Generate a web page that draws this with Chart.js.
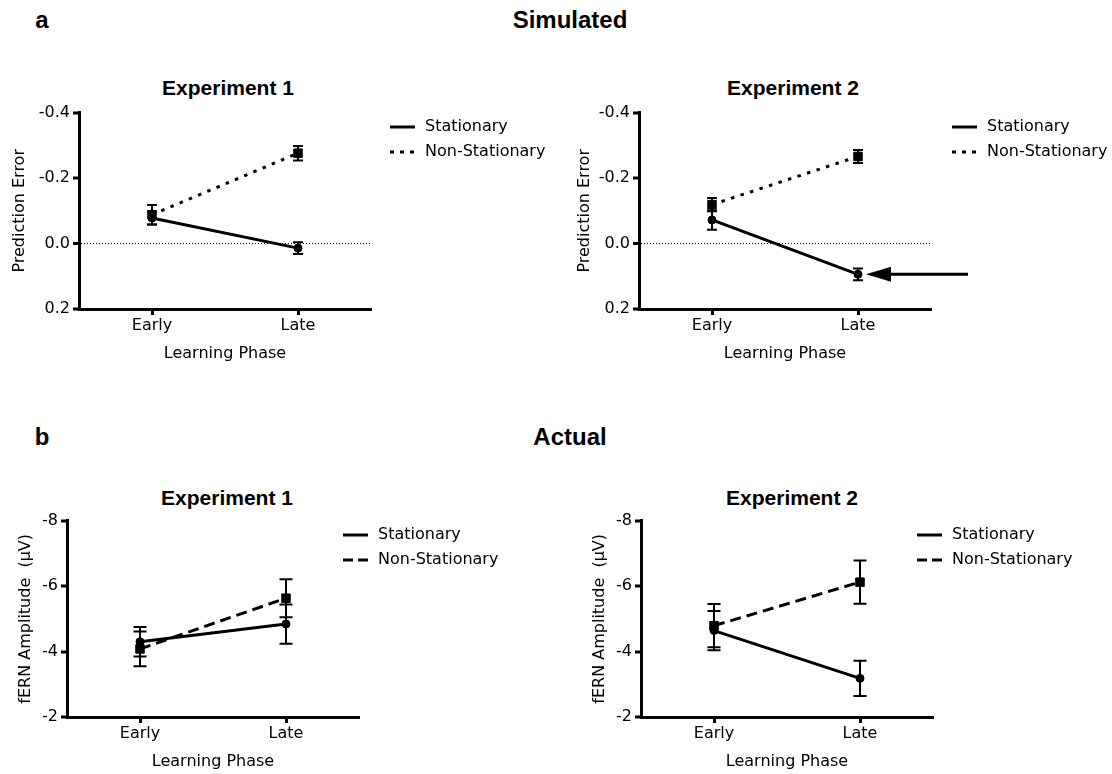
<!DOCTYPE html>
<html>
<head>
<meta charset="utf-8">
<script src="https://cdn.jsdelivr.net/npm/chart.js@4"></script>
<style>
  html, body { margin: 0; padding: 0; background: #fff; overflow: hidden; }
  body { width: 1112px; height: 774px; position: relative; }
  .hd {
    position: absolute; color: #000; white-space: nowrap; line-height: 1;
    font-family: "Liberation Sans", Arial, sans-serif; font-weight: bold;
    transform: translate(-50%, -50%);
  }
  canvas { position: absolute; }
</style>
</head>
<body>
<div class="hd" style="left:42px;top:20px;font-size:24px">a</div>
<div class="hd" style="left:570px;top:20px;font-size:24px">Simulated</div>
<div class="hd" style="left:228px;top:87px;font-size:21px">Experiment 1</div>
<div class="hd" style="left:793px;top:87px;font-size:21px">Experiment 2</div>
<div class="hd" style="left:42px;top:437px;font-size:24px">b</div>
<div class="hd" style="left:570px;top:437px;font-size:24px">Actual</div>
<div class="hd" style="left:227px;top:497px;font-size:21px">Experiment 1</div>
<div class="hd" style="left:792px;top:497px;font-size:21px">Experiment 2</div>

<canvas id="simExp1" width="556" height="267" style="left:0;top:100px"></canvas>
<canvas id="simExp2" width="552" height="267" style="left:560px;top:100px"></canvas>
<canvas id="actExp1" width="556" height="267" style="left:0;top:508px"></canvas>
<canvas id="actExp2" width="552" height="267" style="left:560px;top:508px"></canvas>

<script>
// ---- data ----
const phases = ['Early', 'Late'];
const seriesNames = ['Stationary', 'Non-Stationary'];

// Simulated prediction error (mean, SEM)
const simExp1Stationary = [-0.078, 0.014];
const simExp1StationarySem = [0.02, 0.018];
const simExp1NonStationary = [-0.088, -0.276];
const simExp1NonStationarySem = [0.03, 0.022];

const simExp2Stationary = [-0.072, 0.094];
const simExp2StationarySem = [0.03, 0.018];
const simExp2NonStationary = [-0.119, -0.266];
const simExp2NonStationarySem = [0.02, 0.02];

// Measured fERN amplitude in µV (mean, SEM)
const actExp1Stationary = [-4.30, -4.84];
const actExp1StationarySem = [0.45, 0.60];
const actExp1NonStationary = [-4.08, -5.63];
const actExp1NonStationarySem = [0.53, 0.58];

const actExp2Stationary = [-4.64, -3.18];
const actExp2StationarySem = [0.60, 0.54];
const actExp2NonStationary = [-4.79, -6.12];
const actExp2NonStationarySem = [0.66, 0.66];

const simTicks = [-0.4, -0.2, 0.0, 0.2];
const actTicks = [-8, -6, -4, -2];

// ---- shared styling ----
const AXIS_FONT = { family: '"DejaVu Sans", Verdana, sans-serif', size: 16 };
const DOTTED = [3.5, 6.5];
const DASHED = [11, 6];

// vertical SEM bars with caps
const errorBars = {
  id: 'errorBars',
  afterDatasetsDraw(chart, args, opts) {
    const { ctx } = chart;
    const y = chart.scales.y;
    chart.data.datasets.forEach((ds, i) => {
      const meta = chart.getDatasetMeta(i);
      meta.data.forEach((pt, j) => {
        const top = y.getPixelForValue(ds.data[j] - ds.sem[j]);
        const bot = y.getPixelForValue(ds.data[j] + ds.sem[j]);
        ctx.save();
        ctx.strokeStyle = '#000';
        ctx.lineWidth = 2;
        ctx.beginPath();
        ctx.moveTo(pt.x, top); ctx.lineTo(pt.x, bot);
        ctx.moveTo(pt.x - opts.cap, top); ctx.lineTo(pt.x + opts.cap, top);
        ctx.moveTo(pt.x - opts.cap, bot); ctx.lineTo(pt.x + opts.cap, bot);
        ctx.stroke();
        ctx.restore();
      });
    });
  }
};

// line-sample legend to the right of the plot
const sideLegend = {
  id: 'sideLegend',
  afterDraw(chart, args, opts) {
    const { ctx } = chart;
    chart.data.datasets.forEach((ds, i) => {
      const yy = opts.top + i * opts.rowGap;
      ctx.save();
      ctx.strokeStyle = '#000';
      ctx.lineWidth = 3;
      ctx.setLineDash(opts.dashes[i]);
      ctx.beginPath();
      ctx.moveTo(opts.lineX, yy);
      ctx.lineTo(opts.lineX + opts.lineW, yy);
      ctx.stroke();
      ctx.setLineDash([]);
      ctx.fillStyle = '#000';
      ctx.font = `${AXIS_FONT.size}px ${AXIS_FONT.family}`;
      ctx.textBaseline = 'middle';
      ctx.fillText(ds.label, opts.textX, yy);
      ctx.restore();
    });
  }
};

// arrow pointing at a highlighted mean
const pointerArrow = {
  id: 'pointerArrow',
  afterDraw(chart, args, opts) {
    if (!opts || !opts.show) return;
    const pt = chart.getDatasetMeta(opts.datasetIndex).data[opts.index];
    const { ctx } = chart;
    const tip = pt.x + opts.gap;
    const base = tip + opts.headLength;
    ctx.save();
    ctx.fillStyle = '#000';
    ctx.strokeStyle = '#000';
    ctx.lineWidth = 3;
    ctx.beginPath();
    ctx.moveTo(base - 2, pt.y);
    ctx.lineTo(tip + opts.length, pt.y);
    ctx.stroke();
    ctx.beginPath();
    ctx.moveTo(tip, pt.y);
    ctx.lineTo(base, pt.y - opts.headHalf);
    ctx.lineTo(base, pt.y + opts.headHalf);
    ctx.closePath();
    ctx.fill();
    ctx.restore();
  }
};

function makeChart(id, cfg) {
  const nonStatDash = cfg.simulated ? DOTTED : DASHED;
  const ticks = cfg.ticks;
  const datasets = [
    {
      label: seriesNames[0], data: cfg.stat, sem: cfg.statSem,
      borderColor: '#000', borderWidth: 3, borderDash: [],
      pointStyle: 'circle', pointRadius: 4, pointBorderWidth: 1,
      pointBackgroundColor: '#000', pointBorderColor: '#000', tension: 0, clip: false
    },
    {
      label: seriesNames[1], data: cfg.nonStat, sem: cfg.nonStatSem,
      borderColor: '#000', borderWidth: 3, borderDash: nonStatDash,
      pointStyle: 'rect', pointRadius: 6, pointBorderWidth: 1,
      pointBackgroundColor: '#000', pointBorderColor: '#000', tension: 0, clip: false
    }
  ];
  const zeroLine = cfg.simulated;
  return new Chart(document.getElementById(id), {
    type: 'line',
    data: { labels: phases, datasets },
    plugins: [errorBars, sideLegend, pointerArrow],
    options: {
      responsive: false,
      animation: false,
      events: [],
      layout: { padding: { left: cfg.padLeft, right: cfg.padRight, top: 12, bottom: 0 } },
      plugins: {
        legend: { display: false },
        tooltip: { enabled: false },
        errorBars: { cap: cfg.simulated ? 5 : 6.5 },
        sideLegend: {
          lineX: cfg.legendX, lineW: 25, textX: cfg.legendX + 35,
          top: 27, rowGap: 25,
          dashes: [[], cfg.simulated ? [4, 6] : [10, 5]]
        },
        pointerArrow: cfg.arrow || { show: false }
      },
      scales: {
        x: {
          type: 'category', offset: true,
          afterFit: s => { s.height = 58; },
          border: { display: true, color: '#000', width: 3 },
          grid: { drawOnChartArea: false, offset: false, tickColor: '#000', tickWidth: 3, tickLength: 6 },
          ticks: { color: '#000', font: AXIS_FONT, padding: 1, maxRotation: 0, autoSkip: false },
          title: { display: true, text: 'Learning Phase', color: '#000', font: AXIS_FONT, padding: { top: 4, bottom: 4 } }
        },
        y: {
          type: 'linear', reverse: true,
          min: ticks[0], max: ticks[ticks.length - 1],
          afterBuildTicks: s => { s.ticks = ticks.map(v => ({ value: v })); },
          afterFit: s => { s.width = cfg.yWidth; },
          border: { display: true, color: '#000', width: 3, dash: [1, 2] },
          grid: {
            drawOnChartArea: zeroLine,
            color: c => (c.tick && c.tick.value === 0) ? '#000' : 'rgba(0,0,0,0)',
            lineWidth: c => (zeroLine && c.tick && c.tick.value === 0) ? 1 : 0,
            tickColor: '#000', tickWidth: 3, tickLength: 6
          },
          ticks: {
            color: '#000', font: AXIS_FONT, padding: 3,
            callback: v => cfg.simulated ? Number(v).toFixed(1) : String(v)
          },
          title: { display: true, text: cfg.yTitle, color: '#000', font: AXIS_FONT, padding: { top: 4, bottom: 4 } }
        }
      }
    }
  });
}

makeChart('simExp1', {
  simulated: true, ticks: simTicks, yTitle: 'Prediction Error',
  stat: simExp1Stationary, statSem: simExp1StationarySem,
  nonStat: simExp1NonStationary, nonStatSem: simExp1NonStationarySem,
  padLeft: 6, yWidth: 73, padRight: 185, legendX: 390
});
makeChart('simExp2', {
  simulated: true, ticks: simTicks, yTitle: 'Prediction Error',
  stat: simExp2Stationary, statSem: simExp2StationarySem,
  nonStat: simExp2NonStationary, nonStatSem: simExp2NonStationarySem,
  padLeft: 11, yWidth: 68, padRight: 181, legendX: 392,
  arrow: { show: true, datasetIndex: 0, index: 1, gap: 8, headLength: 25, headHalf: 7.5, length: 102 }
});
makeChart('actExp1', {
  simulated: false, ticks: actTicks, yTitle: 'fERN Amplitude  (µV)',
  stat: actExp1Stationary, statSem: actExp1StationarySem,
  nonStat: actExp1NonStationary, nonStatSem: actExp1NonStationarySem,
  padLeft: 12, yWidth: 55, padRight: 197, legendX: 343
});
makeChart('actExp2', {
  simulated: false, ticks: actTicks, yTitle: 'fERN Amplitude  (µV)',
  stat: actExp2Stationary, statSem: actExp2StationarySem,
  nonStat: actExp2NonStationary, nonStatSem: actExp2NonStationarySem,
  padLeft: 26, yWidth: 55, padRight: 179, legendX: 357
});
</script>
</body>
</html>
